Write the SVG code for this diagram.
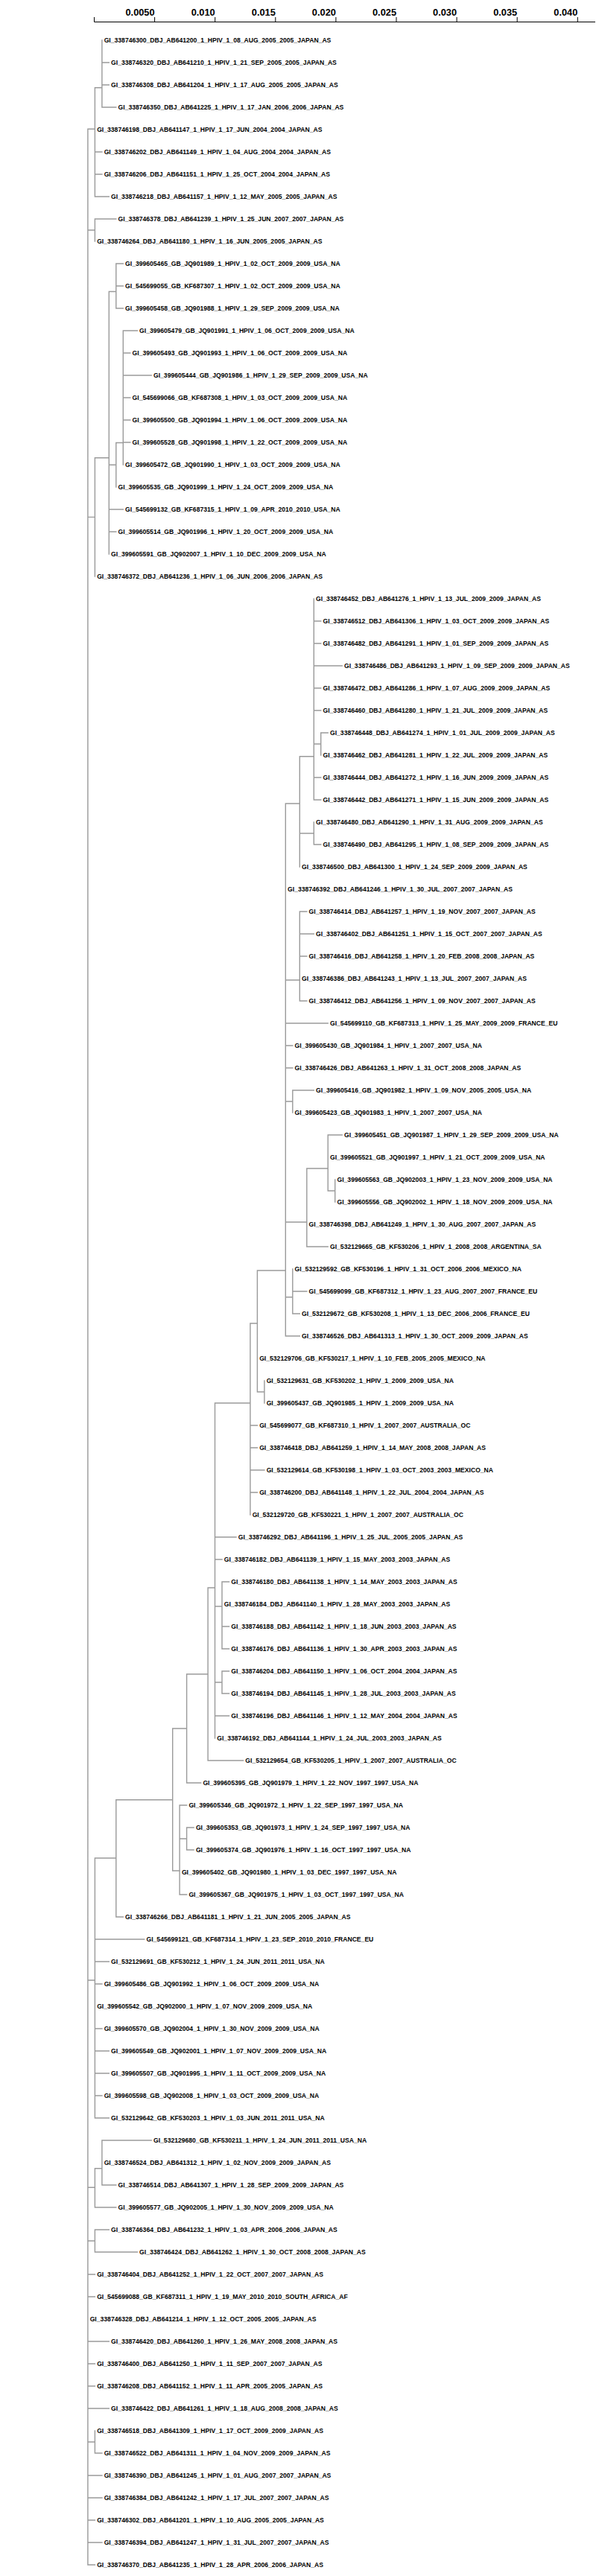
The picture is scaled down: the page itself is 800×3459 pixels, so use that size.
<svg xmlns="http://www.w3.org/2000/svg" width="800" height="3459" viewBox="0 0 800 3459">
<style>
.br{stroke:#9a9a9a;stroke-width:1.4;fill:none;stroke-linecap:square}
.ax{stroke:#000;stroke-width:1;fill:none}
.tk{font-family:"Liberation Sans",Arial,sans-serif;font-size:12.8px;font-weight:bold;fill:#000;text-anchor:end}
text.l{font-family:"Liberation Sans",Arial,sans-serif;font-size:8.6px;font-weight:bold;fill:#000}
</style>
<rect width="800" height="3459" fill="#fff"/>
<g id="axis">
<path class="ax" d="M126.5 29.5H799M126.5 23V29.5M207.6 23V29.5M288.7 23V29.5M369.8 23V29.5M450.9 23V29.5M532 23V29.5M613.1 23V29.5M694.2 23V29.5M775.3 23V29.5"/>
<text class="tk" x="207.6" y="20.5">0.0050</text>
<text class="tk" x="288.7" y="20.5">0.010</text>
<text class="tk" x="369.8" y="20.5">0.015</text>
<text class="tk" x="450.9" y="20.5">0.020</text>
<text class="tk" x="532" y="20.5">0.025</text>
<text class="tk" x="613.1" y="20.5">0.030</text>
<text class="tk" x="694.2" y="20.5">0.035</text>
<text class="tk" x="775.3" y="20.5">0.040</text>
</g>
<g id="connectors">
<path class="br" d="M117.9 173.3V3444
M117.9 173.3H127.4M127.4 117.7V264M127.4 117.7H136.9M136.9 54V144M136.9 84H146.3M136.9 114H146.3M136.9 144H155.8M127.4 204H136.9M127.4 234H136.9M127.4 264H146.3
M117.9 309H127.4M127.4 294V324M127.4 294H155.8
M117.9 694.4H127.4M127.4 614.7V774M127.4 614.7H146.3M146.3 391.5V744M146.3 391.5H155.8M155.8 354V414M155.8 354H165.3M155.8 384H165.3M155.8 414H165.3
M146.3 624.2H155.8M155.8 594.5V654M155.8 594.5H165.3M165.3 444V624M165.3 444H184.3M165.3 474H174.8M165.3 504H203.2M165.3 534H174.8M165.3 564H174.8M165.3 594H174.8
M146.3 684H165.3M146.3 714H155.8
M117.9 2659H127.4M127.4 2495V2844M127.4 2495H155.8M155.8 2416.7V2574M155.8 2416.7H231.7M231.7 2321V2512M231.7 2321H250.6M250.6 2248V2394M250.6 2248H279.1M279.1 2132V2364M279.1 2132H288.5M288.5 1884V2334M288.5 1884H335.9M335.9 1777V2034M335.9 1777H345.4M345.4 1706V1869M345.4 1706H383.3M383.3 1079V1794
M383.3 1079H402.3M402.3 1015.7V1164M402.3 1015.7H421.3M421.3 804V1074M421.3 834H430.7M421.3 864H430.7M421.3 894H459.2M421.3 924H430.7M421.3 954H430.7M421.3 999H430.7M430.7 984V1014M430.7 984H440.2M421.3 1044H430.7M421.3 1074H430.7
M402.3 1119H421.3M421.3 1104V1134M421.3 1134H430.7
M383.3 1316H402.3M402.3 1224V1344M402.3 1224H411.8M402.3 1254H421.3M402.3 1284H411.8M402.3 1344H411.8
M383.3 1374H440.2M383.3 1404H392.8M383.3 1434H392.8M383.3 1479H392.8M392.8 1464V1494M392.8 1464H421.3
M383.3 1641H411.8M411.8 1569V1674M411.8 1569H440.2M440.2 1524V1599M440.2 1524H459.2M440.2 1599H449.7M449.7 1584V1614M411.8 1674H440.2
M383.3 1741.7H392.8M392.8 1704V1764M392.8 1734H411.8M392.8 1764H402.3M383.3 1794H402.3
M345.4 1869H354.9M354.9 1854V1884
M335.9 1914H345.4M335.9 1944H345.4M335.9 1974H354.9M335.9 2004H345.4
M288.5 2064H317M288.5 2094H298M288.5 2157H298M298 2124V2214M298 2124H307.5M298 2184H307.5M298 2214H307.5M288.5 2259H298M298 2244V2274M298 2244H307.5M298 2274H307.5M288.5 2304H307.5
M279.1 2364H326.5M250.6 2394H269.6
M231.7 2512H241.1M241.1 2424V2544M241.1 2424H250.6M241.1 2469H250.6M250.6 2454V2484M250.6 2454H260.1M250.6 2484H260.1M241.1 2544H250.6
M155.8 2574H165.3
M127.4 2604H193.7M127.4 2634H146.3M127.4 2664H136.9M127.4 2724H136.9M127.4 2754H146.3M127.4 2784H146.3M127.4 2814H136.9M127.4 2844H146.3
M117.9 2937.3H127.4M127.4 2911.7V2964M127.4 2911.7H136.9M136.9 2874V2934M136.9 2874H203.2M136.9 2934H155.8M127.4 2964H155.8
M117.9 3009H127.4M127.4 2994V3024M127.4 2994H146.3M127.4 3024H184.3
M117.9 3054H127.4M117.9 3084H127.4M117.9 3144H146.3M117.9 3174H127.4M117.9 3204H127.4M117.9 3234H146.3
M117.9 3279H127.4M127.4 3264V3294M127.4 3294H136.9
M117.9 3324H136.9M117.9 3354H136.9M117.9 3384H127.4M117.9 3414H136.9M117.9 3444H127.4"/>
</g>
<g id="leaf-0"><text class="l" x="139.7" y="57">GI_338746300_DBJ_AB641200_1_HPIV_1_08_AUG_2005_2005_JAPAN_AS</text></g>
<g id="leaf-1"><text class="l" x="149.1" y="87">GI_338746320_DBJ_AB641210_1_HPIV_1_21_SEP_2005_2005_JAPAN_AS</text></g>
<g id="leaf-2"><text class="l" x="149.1" y="117">GI_338746308_DBJ_AB641204_1_HPIV_1_17_AUG_2005_2005_JAPAN_AS</text></g>
<g id="leaf-3"><text class="l" x="158.6" y="147">GI_338746350_DBJ_AB641225_1_HPIV_1_17_JAN_2006_2006_JAPAN_AS</text></g>
<g id="leaf-4"><text class="l" x="130.2" y="177">GI_338746198_DBJ_AB641147_1_HPIV_1_17_JUN_2004_2004_JAPAN_AS</text></g>
<g id="leaf-5"><text class="l" x="139.7" y="207">GI_338746202_DBJ_AB641149_1_HPIV_1_04_AUG_2004_2004_JAPAN_AS</text></g>
<g id="leaf-6"><text class="l" x="139.7" y="237">GI_338746206_DBJ_AB641151_1_HPIV_1_25_OCT_2004_2004_JAPAN_AS</text></g>
<g id="leaf-7"><text class="l" x="149.1" y="267">GI_338746218_DBJ_AB641157_1_HPIV_1_12_MAY_2005_2005_JAPAN_AS</text></g>
<g id="leaf-8"><text class="l" x="158.6" y="297">GI_338746378_DBJ_AB641239_1_HPIV_1_25_JUN_2007_2007_JAPAN_AS</text></g>
<g id="leaf-9"><text class="l" x="130.2" y="327">GI_338746264_DBJ_AB641180_1_HPIV_1_16_JUN_2005_2005_JAPAN_AS</text></g>
<g id="leaf-10"><text class="l" x="168.1" y="357">GI_399605465_GB_JQ901989_1_HPIV_1_02_OCT_2009_2009_USA_NA</text></g>
<g id="leaf-11"><text class="l" x="168.1" y="387">GI_545699055_GB_KF687307_1_HPIV_1_02_OCT_2009_2009_USA_NA</text></g>
<g id="leaf-12"><text class="l" x="168.1" y="417">GI_399605458_GB_JQ901988_1_HPIV_1_29_SEP_2009_2009_USA_NA</text></g>
<g id="leaf-13"><text class="l" x="187.1" y="447">GI_399605479_GB_JQ901991_1_HPIV_1_06_OCT_2009_2009_USA_NA</text></g>
<g id="leaf-14"><text class="l" x="177.6" y="477">GI_399605493_GB_JQ901993_1_HPIV_1_06_OCT_2009_2009_USA_NA</text></g>
<g id="leaf-15"><text class="l" x="206" y="507">GI_399605444_GB_JQ901986_1_HPIV_1_29_SEP_2009_2009_USA_NA</text></g>
<g id="leaf-16"><text class="l" x="177.6" y="537">GI_545699066_GB_KF687308_1_HPIV_1_03_OCT_2009_2009_USA_NA</text></g>
<g id="leaf-17"><text class="l" x="177.6" y="567">GI_399605500_GB_JQ901994_1_HPIV_1_06_OCT_2009_2009_USA_NA</text></g>
<g id="leaf-18"><text class="l" x="177.6" y="597">GI_399605528_GB_JQ901998_1_HPIV_1_22_OCT_2009_2009_USA_NA</text></g>
<g id="leaf-19"><text class="l" x="168.1" y="627">GI_399605472_GB_JQ901990_1_HPIV_1_03_OCT_2009_2009_USA_NA</text></g>
<g id="leaf-20"><text class="l" x="158.6" y="657">GI_399605535_GB_JQ901999_1_HPIV_1_24_OCT_2009_2009_USA_NA</text></g>
<g id="leaf-21"><text class="l" x="168.1" y="687">GI_545699132_GB_KF687315_1_HPIV_1_09_APR_2010_2010_USA_NA</text></g>
<g id="leaf-22"><text class="l" x="158.6" y="717">GI_399605514_GB_JQ901996_1_HPIV_1_20_OCT_2009_2009_USA_NA</text></g>
<g id="leaf-23"><text class="l" x="149.1" y="747">GI_399605591_GB_JQ902007_1_HPIV_1_10_DEC_2009_2009_USA_NA</text></g>
<g id="leaf-24"><text class="l" x="130.2" y="777">GI_338746372_DBJ_AB641236_1_HPIV_1_06_JUN_2006_2006_JAPAN_AS</text></g>
<g id="leaf-25"><text class="l" x="424.1" y="807">GI_338746452_DBJ_AB641276_1_HPIV_1_13_JUL_2009_2009_JAPAN_AS</text></g>
<g id="leaf-26"><text class="l" x="433.5" y="837">GI_338746512_DBJ_AB641306_1_HPIV_1_03_OCT_2009_2009_JAPAN_AS</text></g>
<g id="leaf-27"><text class="l" x="433.5" y="867">GI_338746482_DBJ_AB641291_1_HPIV_1_01_SEP_2009_2009_JAPAN_AS</text></g>
<g id="leaf-28"><text class="l" x="462" y="897">GI_338746486_DBJ_AB641293_1_HPIV_1_09_SEP_2009_2009_JAPAN_AS</text></g>
<g id="leaf-29"><text class="l" x="433.5" y="927">GI_338746472_DBJ_AB641286_1_HPIV_1_07_AUG_2009_2009_JAPAN_AS</text></g>
<g id="leaf-30"><text class="l" x="433.5" y="957">GI_338746460_DBJ_AB641280_1_HPIV_1_21_JUL_2009_2009_JAPAN_AS</text></g>
<g id="leaf-31"><text class="l" x="443" y="987">GI_338746448_DBJ_AB641274_1_HPIV_1_01_JUL_2009_2009_JAPAN_AS</text></g>
<g id="leaf-32"><text class="l" x="433.5" y="1017">GI_338746462_DBJ_AB641281_1_HPIV_1_22_JUL_2009_2009_JAPAN_AS</text></g>
<g id="leaf-33"><text class="l" x="433.5" y="1047">GI_338746444_DBJ_AB641272_1_HPIV_1_16_JUN_2009_2009_JAPAN_AS</text></g>
<g id="leaf-34"><text class="l" x="433.5" y="1077">GI_338746442_DBJ_AB641271_1_HPIV_1_15_JUN_2009_2009_JAPAN_AS</text></g>
<g id="leaf-35"><text class="l" x="424.1" y="1107">GI_338746480_DBJ_AB641290_1_HPIV_1_31_AUG_2009_2009_JAPAN_AS</text></g>
<g id="leaf-36"><text class="l" x="433.5" y="1137">GI_338746490_DBJ_AB641295_1_HPIV_1_08_SEP_2009_2009_JAPAN_AS</text></g>
<g id="leaf-37"><text class="l" x="405.1" y="1167">GI_338746500_DBJ_AB641300_1_HPIV_1_24_SEP_2009_2009_JAPAN_AS</text></g>
<g id="leaf-38"><text class="l" x="386.1" y="1197">GI_338746392_DBJ_AB641246_1_HPIV_1_30_JUL_2007_2007_JAPAN_AS</text></g>
<g id="leaf-39"><text class="l" x="414.6" y="1227">GI_338746414_DBJ_AB641257_1_HPIV_1_19_NOV_2007_2007_JAPAN_AS</text></g>
<g id="leaf-40"><text class="l" x="424.1" y="1257">GI_338746402_DBJ_AB641251_1_HPIV_1_15_OCT_2007_2007_JAPAN_AS</text></g>
<g id="leaf-41"><text class="l" x="414.6" y="1287">GI_338746416_DBJ_AB641258_1_HPIV_1_20_FEB_2008_2008_JAPAN_AS</text></g>
<g id="leaf-42"><text class="l" x="405.1" y="1317">GI_338746386_DBJ_AB641243_1_HPIV_1_13_JUL_2007_2007_JAPAN_AS</text></g>
<g id="leaf-43"><text class="l" x="414.6" y="1347">GI_338746412_DBJ_AB641256_1_HPIV_1_09_NOV_2007_2007_JAPAN_AS</text></g>
<g id="leaf-44"><text class="l" x="443" y="1377">GI_545699110_GB_KF687313_1_HPIV_1_25_MAY_2009_2009_FRANCE_EU</text></g>
<g id="leaf-45"><text class="l" x="395.6" y="1407">GI_399605430_GB_JQ901984_1_HPIV_1_2007_2007_USA_NA</text></g>
<g id="leaf-46"><text class="l" x="395.6" y="1437">GI_338746426_DBJ_AB641263_1_HPIV_1_31_OCT_2008_2008_JAPAN_AS</text></g>
<g id="leaf-47"><text class="l" x="424.1" y="1467">GI_399605416_GB_JQ901982_1_HPIV_1_09_NOV_2005_2005_USA_NA</text></g>
<g id="leaf-48"><text class="l" x="395.6" y="1497">GI_399605423_GB_JQ901983_1_HPIV_1_2007_2007_USA_NA</text></g>
<g id="leaf-49"><text class="l" x="462" y="1527">GI_399605451_GB_JQ901987_1_HPIV_1_29_SEP_2009_2009_USA_NA</text></g>
<g id="leaf-50"><text class="l" x="443" y="1557">GI_399605521_GB_JQ901997_1_HPIV_1_21_OCT_2009_2009_USA_NA</text></g>
<g id="leaf-51"><text class="l" x="452.5" y="1587">GI_399605563_GB_JQ902003_1_HPIV_1_23_NOV_2009_2009_USA_NA</text></g>
<g id="leaf-52"><text class="l" x="452.5" y="1617">GI_399605556_GB_JQ902002_1_HPIV_1_18_NOV_2009_2009_USA_NA</text></g>
<g id="leaf-53"><text class="l" x="414.6" y="1647">GI_338746398_DBJ_AB641249_1_HPIV_1_30_AUG_2007_2007_JAPAN_AS</text></g>
<g id="leaf-54"><text class="l" x="443" y="1677">GI_532129665_GB_KF530206_1_HPIV_1_2008_2008_ARGENTINA_SA</text></g>
<g id="leaf-55"><text class="l" x="395.6" y="1707">GI_532129592_GB_KF530196_1_HPIV_1_31_OCT_2006_2006_MEXICO_NA</text></g>
<g id="leaf-56"><text class="l" x="414.6" y="1737">GI_545699099_GB_KF687312_1_HPIV_1_23_AUG_2007_2007_FRANCE_EU</text></g>
<g id="leaf-57"><text class="l" x="405.1" y="1767">GI_532129672_GB_KF530208_1_HPIV_1_13_DEC_2006_2006_FRANCE_EU</text></g>
<g id="leaf-58"><text class="l" x="405.1" y="1797">GI_338746526_DBJ_AB641313_1_HPIV_1_30_OCT_2009_2009_JAPAN_AS</text></g>
<g id="leaf-59"><text class="l" x="348.2" y="1827">GI_532129706_GB_KF530217_1_HPIV_1_10_FEB_2005_2005_MEXICO_NA</text></g>
<g id="leaf-60"><text class="l" x="357.7" y="1857">GI_532129631_GB_KF530202_1_HPIV_1_2009_2009_USA_NA</text></g>
<g id="leaf-61"><text class="l" x="357.7" y="1887">GI_399605437_GB_JQ901985_1_HPIV_1_2009_2009_USA_NA</text></g>
<g id="leaf-62"><text class="l" x="348.2" y="1917">GI_545699077_GB_KF687310_1_HPIV_1_2007_2007_AUSTRALIA_OC</text></g>
<g id="leaf-63"><text class="l" x="348.2" y="1947">GI_338746418_DBJ_AB641259_1_HPIV_1_14_MAY_2008_2008_JAPAN_AS</text></g>
<g id="leaf-64"><text class="l" x="357.7" y="1977">GI_532129614_GB_KF530198_1_HPIV_1_03_OCT_2003_2003_MEXICO_NA</text></g>
<g id="leaf-65"><text class="l" x="348.2" y="2007">GI_338746200_DBJ_AB641148_1_HPIV_1_22_JUL_2004_2004_JAPAN_AS</text></g>
<g id="leaf-66"><text class="l" x="338.7" y="2037">GI_532129720_GB_KF530221_1_HPIV_1_2007_2007_AUSTRALIA_OC</text></g>
<g id="leaf-67"><text class="l" x="319.8" y="2067">GI_338746292_DBJ_AB641196_1_HPIV_1_25_JUL_2005_2005_JAPAN_AS</text></g>
<g id="leaf-68"><text class="l" x="300.8" y="2097">GI_338746182_DBJ_AB641139_1_HPIV_1_15_MAY_2003_2003_JAPAN_AS</text></g>
<g id="leaf-69"><text class="l" x="310.3" y="2127">GI_338746180_DBJ_AB641138_1_HPIV_1_14_MAY_2003_2003_JAPAN_AS</text></g>
<g id="leaf-70"><text class="l" x="300.8" y="2157">GI_338746184_DBJ_AB641140_1_HPIV_1_28_MAY_2003_2003_JAPAN_AS</text></g>
<g id="leaf-71"><text class="l" x="310.3" y="2187">GI_338746188_DBJ_AB641142_1_HPIV_1_18_JUN_2003_2003_JAPAN_AS</text></g>
<g id="leaf-72"><text class="l" x="310.3" y="2217">GI_338746176_DBJ_AB641136_1_HPIV_1_30_APR_2003_2003_JAPAN_AS</text></g>
<g id="leaf-73"><text class="l" x="310.3" y="2247">GI_338746204_DBJ_AB641150_1_HPIV_1_06_OCT_2004_2004_JAPAN_AS</text></g>
<g id="leaf-74"><text class="l" x="310.3" y="2277">GI_338746194_DBJ_AB641145_1_HPIV_1_28_JUL_2003_2003_JAPAN_AS</text></g>
<g id="leaf-75"><text class="l" x="310.3" y="2307">GI_338746196_DBJ_AB641146_1_HPIV_1_12_MAY_2004_2004_JAPAN_AS</text></g>
<g id="leaf-76"><text class="l" x="291.3" y="2337">GI_338746192_DBJ_AB641144_1_HPIV_1_24_JUL_2003_2003_JAPAN_AS</text></g>
<g id="leaf-77"><text class="l" x="329.3" y="2367">GI_532129654_GB_KF530205_1_HPIV_1_2007_2007_AUSTRALIA_OC</text></g>
<g id="leaf-78"><text class="l" x="272.4" y="2397">GI_399605395_GB_JQ901979_1_HPIV_1_22_NOV_1997_1997_USA_NA</text></g>
<g id="leaf-79"><text class="l" x="253.4" y="2427">GI_399605346_GB_JQ901972_1_HPIV_1_22_SEP_1997_1997_USA_NA</text></g>
<g id="leaf-80"><text class="l" x="262.9" y="2457">GI_399605353_GB_JQ901973_1_HPIV_1_24_SEP_1997_1997_USA_NA</text></g>
<g id="leaf-81"><text class="l" x="262.9" y="2487">GI_399605374_GB_JQ901976_1_HPIV_1_16_OCT_1997_1997_USA_NA</text></g>
<g id="leaf-82"><text class="l" x="243.9" y="2517">GI_399605402_GB_JQ901980_1_HPIV_1_03_DEC_1997_1997_USA_NA</text></g>
<g id="leaf-83"><text class="l" x="253.4" y="2547">GI_399605367_GB_JQ901975_1_HPIV_1_03_OCT_1997_1997_USA_NA</text></g>
<g id="leaf-84"><text class="l" x="168.1" y="2577">GI_338746266_DBJ_AB641181_1_HPIV_1_21_JUN_2005_2005_JAPAN_AS</text></g>
<g id="leaf-85"><text class="l" x="196.5" y="2607">GI_545699121_GB_KF687314_1_HPIV_1_23_SEP_2010_2010_FRANCE_EU</text></g>
<g id="leaf-86"><text class="l" x="149.1" y="2637">GI_532129691_GB_KF530212_1_HPIV_1_24_JUN_2011_2011_USA_NA</text></g>
<g id="leaf-87"><text class="l" x="139.7" y="2667">GI_399605486_GB_JQ901992_1_HPIV_1_06_OCT_2009_2009_USA_NA</text></g>
<g id="leaf-88"><text class="l" x="130.2" y="2697">GI_399605542_GB_JQ902000_1_HPIV_1_07_NOV_2009_2009_USA_NA</text></g>
<g id="leaf-89"><text class="l" x="139.7" y="2727">GI_399605570_GB_JQ902004_1_HPIV_1_30_NOV_2009_2009_USA_NA</text></g>
<g id="leaf-90"><text class="l" x="149.1" y="2757">GI_399605549_GB_JQ902001_1_HPIV_1_07_NOV_2009_2009_USA_NA</text></g>
<g id="leaf-91"><text class="l" x="149.1" y="2787">GI_399605507_GB_JQ901995_1_HPIV_1_11_OCT_2009_2009_USA_NA</text></g>
<g id="leaf-92"><text class="l" x="139.7" y="2817">GI_399605598_GB_JQ902008_1_HPIV_1_03_OCT_2009_2009_USA_NA</text></g>
<g id="leaf-93"><text class="l" x="149.1" y="2847">GI_532129642_GB_KF530203_1_HPIV_1_03_JUN_2011_2011_USA_NA</text></g>
<g id="leaf-94"><text class="l" x="206" y="2877">GI_532129680_GB_KF530211_1_HPIV_1_24_JUN_2011_2011_USA_NA</text></g>
<g id="leaf-95"><text class="l" x="139.7" y="2907">GI_338746524_DBJ_AB641312_1_HPIV_1_02_NOV_2009_2009_JAPAN_AS</text></g>
<g id="leaf-96"><text class="l" x="158.6" y="2937">GI_338746514_DBJ_AB641307_1_HPIV_1_28_SEP_2009_2009_JAPAN_AS</text></g>
<g id="leaf-97"><text class="l" x="158.6" y="2967">GI_399605577_GB_JQ902005_1_HPIV_1_30_NOV_2009_2009_USA_NA</text></g>
<g id="leaf-98"><text class="l" x="149.1" y="2997">GI_338746364_DBJ_AB641232_1_HPIV_1_03_APR_2006_2006_JAPAN_AS</text></g>
<g id="leaf-99"><text class="l" x="187.1" y="3027">GI_338746424_DBJ_AB641262_1_HPIV_1_30_OCT_2008_2008_JAPAN_AS</text></g>
<g id="leaf-100"><text class="l" x="130.2" y="3057">GI_338746404_DBJ_AB641252_1_HPIV_1_22_OCT_2007_2007_JAPAN_AS</text></g>
<g id="leaf-101"><text class="l" x="130.2" y="3087">GI_545699088_GB_KF687311_1_HPIV_1_19_MAY_2010_2010_SOUTH_AFRICA_AF</text></g>
<g id="leaf-102"><text class="l" x="120.7" y="3117">GI_338746328_DBJ_AB641214_1_HPIV_1_12_OCT_2005_2005_JAPAN_AS</text></g>
<g id="leaf-103"><text class="l" x="149.1" y="3147">GI_338746420_DBJ_AB641260_1_HPIV_1_26_MAY_2008_2008_JAPAN_AS</text></g>
<g id="leaf-104"><text class="l" x="130.2" y="3177">GI_338746400_DBJ_AB641250_1_HPIV_1_11_SEP_2007_2007_JAPAN_AS</text></g>
<g id="leaf-105"><text class="l" x="130.2" y="3207">GI_338746208_DBJ_AB641152_1_HPIV_1_11_APR_2005_2005_JAPAN_AS</text></g>
<g id="leaf-106"><text class="l" x="149.1" y="3237">GI_338746422_DBJ_AB641261_1_HPIV_1_18_AUG_2008_2008_JAPAN_AS</text></g>
<g id="leaf-107"><text class="l" x="130.2" y="3267">GI_338746518_DBJ_AB641309_1_HPIV_1_17_OCT_2009_2009_JAPAN_AS</text></g>
<g id="leaf-108"><text class="l" x="139.7" y="3297">GI_338746522_DBJ_AB641311_1_HPIV_1_04_NOV_2009_2009_JAPAN_AS</text></g>
<g id="leaf-109"><text class="l" x="139.7" y="3327">GI_338746390_DBJ_AB641245_1_HPIV_1_01_AUG_2007_2007_JAPAN_AS</text></g>
<g id="leaf-110"><text class="l" x="139.7" y="3357">GI_338746384_DBJ_AB641242_1_HPIV_1_17_JUL_2007_2007_JAPAN_AS</text></g>
<g id="leaf-111"><text class="l" x="130.2" y="3387">GI_338746302_DBJ_AB641201_1_HPIV_1_10_AUG_2005_2005_JAPAN_AS</text></g>
<g id="leaf-112"><text class="l" x="139.7" y="3417">GI_338746394_DBJ_AB641247_1_HPIV_1_31_JUL_2007_2007_JAPAN_AS</text></g>
<g id="leaf-113"><text class="l" x="130.2" y="3447">GI_338746370_DBJ_AB641235_1_HPIV_1_28_APR_2006_2006_JAPAN_AS</text></g>
</svg>
